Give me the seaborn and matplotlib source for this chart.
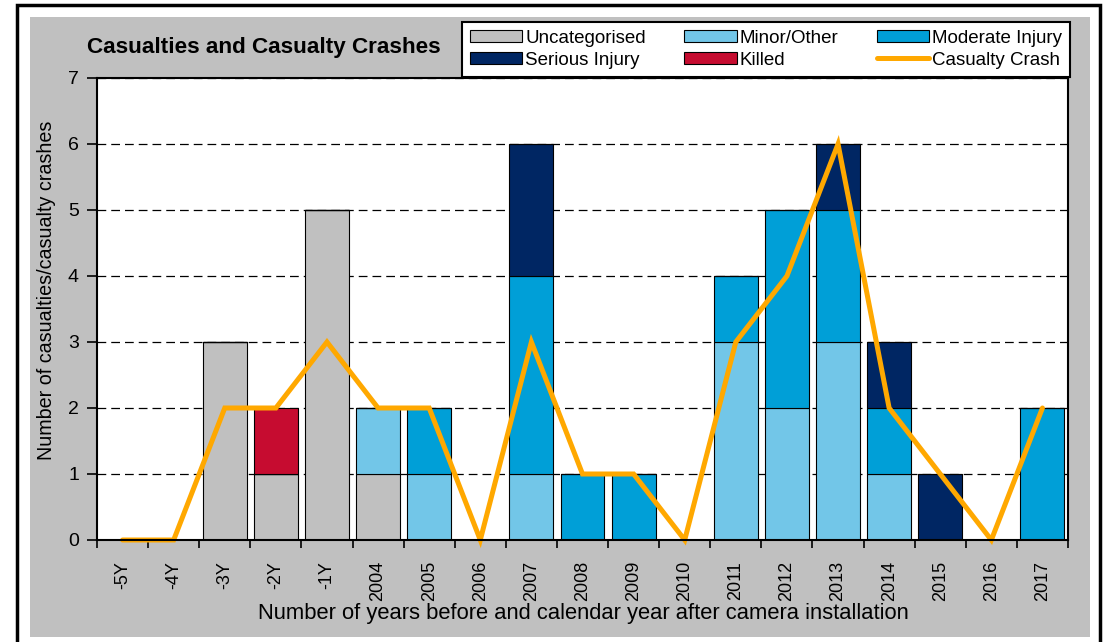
import numpy as np
import matplotlib.pyplot as plt
import seaborn as sns
from matplotlib.patches import Patch, Rectangle
from matplotlib.lines import Line2D

# Data
years = ["-5Y", "-4Y", "-3Y", "-2Y", "-1Y", "2004", "2005", "2006", "2007", "2008",
         "2009", "2010", "2011", "2012", "2013", "2014", "2015", "2016", "2017"]
uncategorised = [0, 0, 3, 1, 5, 1, 0, 0, 0, 0, 0, 0, 0, 0, 0, 0, 0, 0, 0]
minor_other = [0, 0, 0, 0, 0, 1, 1, 0, 1, 0, 0, 0, 3, 2, 3, 1, 0, 0, 0]
moderate = [0, 0, 0, 0, 0, 0, 1, 0, 3, 1, 1, 0, 1, 3, 2, 1, 0, 0, 2]
serious = [0, 0, 0, 0, 0, 0, 0, 0, 2, 0, 0, 0, 0, 0, 1, 1, 1, 0, 0]
killed = [0, 0, 0, 1, 0, 0, 0, 0, 0, 0, 0, 0, 0, 0, 0, 0, 0, 0, 0]
casualty_crash = [0, 0, 2, 2, 3, 2, 2, 0, 3, 1, 1, 0, 3, 4, 6, 2, 1, 0, 2]

layers = [
    ("Uncategorised", uncategorised, "#C0C0C0"),
    ("Minor/Other", minor_other, "#72C6E8"),
    ("Moderate Injury", moderate, "#009FD7"),
    ("Serious Injury", serious, "#002663"),
    ("Killed", killed, "#C60C30"),
]
line_color = "#FFA800"

sns.set_style("white")
plt.rcParams["font.family"] = ["Liberation Sans", "DejaVu Sans"]
plt.rcParams.update({"text.color": "black", "axes.labelcolor": "black",
                     "xtick.color": "black", "ytick.color": "black"})

fig = plt.figure(figsize=(11.06, 6.42), dpi=100)
fig.patch.set_facecolor("white")
ax = fig.add_axes([97 / 1106, 1 - 540 / 642, (1068 - 97) / 1106, (540 - 78) / 642])

# grey panel and outer frame
fig.patches.append(Rectangle((30 / 1106, 5 / 642), (1090 - 30) / 1106, (637 - 17) / 642,
                             transform=fig.transFigure, facecolor="#C0C0C0",
                             edgecolor="none", zorder=-2))
fig.patches.append(Rectangle((17 / 1106, -0.05), (1100 - 17) / 1106, 1 - 5 / 642 + 0.05,
                             transform=fig.transFigure, facecolor="none",
                             edgecolor="black", linewidth=2.5, zorder=-1))

# stacked bars
bottom = np.zeros(len(years))
for name, vals, col in layers:
    sns.barplot(x=years, y=vals, order=years, color=col, bottom=bottom, width=0.86,
                edgecolor="black", linewidth=0.8, ax=ax, errorbar=None, saturation=1)
    bottom = bottom + np.array(vals)

# casualty crash line
sns.pointplot(x=years, y=casualty_crash, order=years, color=line_color, marker="",
              linewidth=3.6, errorbar=None, ax=ax, clip_on=False,
              solid_joinstyle="miter")

ax.set_facecolor("white")
ax.set_axisbelow(True)
ax.set_ylim(0, 7)
ax.set_xlim(-0.5, len(years) - 0.5)
ax.set_yticks(range(0, 8))
ax.yaxis.grid(True, color="black", linestyle=(0, (7, 4)), linewidth=0.9)
ax.xaxis.grid(False)
ax.set_xticks(range(len(years)))
ax.set_xticklabels(years, rotation=90)
ax.set_xticks(np.arange(-0.5, len(years), 1), minor=True)
ax.tick_params(axis="x", which="major", length=0, labelsize=13, pad=15)
ax.tick_params(axis="x", which="minor", length=6, width=1.2, direction="out", color="black")
ax.tick_params(axis="y", length=7, width=1.2, direction="out", color="black", labelsize=14, pad=6)
ax.tick_params(axis="both", which="both", bottom=True, left=True)
for s in ax.spines.values():
    s.set_visible(True)
    s.set_color("black")
    s.set_linewidth(1.5)
ax.set_xlabel("")
ax.set_ylabel("")

fig.text(47 / 1106, 1 - 290 / 642, "Number of casualties/casualty crashes",
         rotation=90, ha="center", va="center", fontsize=14.2)
fig.text(583 / 1106, 1 - 613 / 642,
         "Number of years before and calendar year after camera installation",
         ha="center", va="center", fontsize=15.8)
fig.text(87 / 1106, 1 - 48 / 642, "Casualties and Casualty Crashes",
         ha="left", va="center", fontsize=16.2, fontweight="bold")

# legend (column-wise fill gives the two rows of the reference)
handles = {name: Patch(facecolor=col, edgecolor="black", linewidth=0.8)
           for name, _, col in layers}
handles["Casualty Crash"] = Line2D([0], [0], color=line_color, linewidth=3.6)
order = ["Uncategorised", "Serious Injury", "Minor/Other", "Killed",
         "Moderate Injury", "Casualty Crash"]
leg = fig.legend([handles[k] for k in order], order, ncol=3, loc="upper right",
                 bbox_to_anchor=(1070 / 1106, 1 - 22 / 642), bbox_transform=fig.transFigure,
                 frameon=True, fancybox=False, edgecolor="black", framealpha=1,
                 fontsize=13.5, handlelength=2.8, handleheight=0.6, handletextpad=0.15,
                 columnspacing=2.05, labelspacing=0.26, borderpad=0.42, borderaxespad=0)
leg.get_frame().set_linewidth(1.5)

fig.savefig("out.png", dpi=100, facecolor="white")
